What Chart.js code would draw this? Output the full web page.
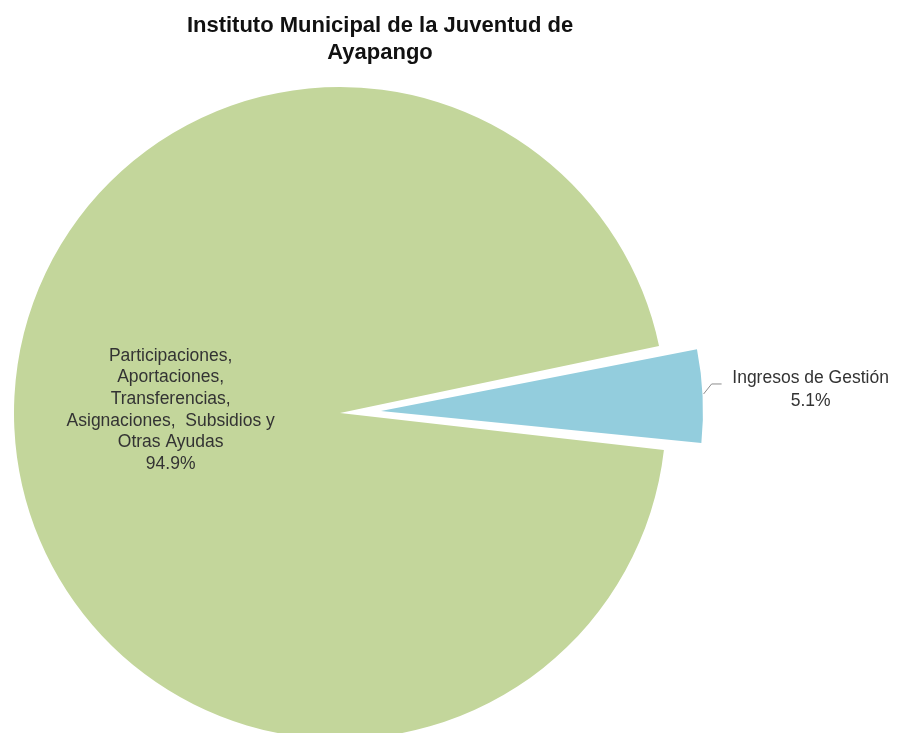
<!DOCTYPE html>
<html>
<head>
<meta charset="utf-8">
<script src="https://cdn.jsdelivr.net/npm/chart.js@4.4.1/dist/chart.umd.min.js"></script>
<style>
  html, body { margin: 0; padding: 0; background: #fff; overflow: hidden; }
  #wrap { width: 897px; height: 733px; }
</style>
</head>
<body>
<div id="wrap"><canvas id="pie" width="897" height="733"></canvas></div>
<script>
const titleLines = ['Instituto Municipal de la Juventud de', 'Ayapango'];
const categories = [
  ['Participaciones,', 'Aportaciones,', 'Transferencias,', 'Asignaciones,  Subsidios y', 'Otras Ayudas'],
  ['Ingresos de Gestión']
];
const values = [94.9, 5.1];
const colors = ['#c3d69b', '#93cddd'];
const explode = [0, 41];        // pixels the slice is pulled out
const explodedRadius = 322;     // exploded slice looks a bit smaller in the original

// chart.js moves an arc by offset/4 and also grows its radius, so undo the growth
function arcFix(arc) {
  return 1 - Math.sin(Math.min(Math.PI, arc.circumference));
}

const explodeFix = {
  id: 'explodeFix',
  beforeDatasetsDraw(chart) {
    chart.getDatasetMeta(0).data.forEach((arc, i) => {
      if (!explode[i]) return;
      arc.outerRadius = explodedRadius - explode[i] * arcFix(arc);
    });
  }
};

const sliceLabels = {
  id: 'sliceLabels',
  afterDatasetsDraw(chart) {
    const ctx = chart.ctx;
    const meta = chart.getDatasetMeta(0);
    const total = values.reduce((a, b) => a + b, 0);
    ctx.save();

    // title
    ctx.fillStyle = '#111';
    ctx.font = 'bold 22px "Liberation Sans", Arial, sans-serif';
    ctx.textAlign = 'center';
    ctx.textBaseline = 'middle';
    titleLines.forEach((t, k) => ctx.fillText(t, 380, 26 + k * 27));

    ctx.font = '17.5px "Liberation Sans", Arial, sans-serif';
    ctx.fillStyle = '#333';
    meta.data.forEach((arc, i) => {
      const p = arc.getProps(['x', 'y', 'startAngle', 'endAngle', 'outerRadius'], true);
      const mid = (p.startAngle + p.endAngle) / 2;
      const cx = p.x + Math.cos(mid) * explode[i];
      const cy = p.y + Math.sin(mid) * explode[i];
      const r = p.outerRadius + explode[i] * arcFix(arc);
      const lines = categories[i].concat([(values[i] / total * 100).toFixed(1) + '%']);
      const lh = 21.6;

      if (i === 0) {
        const lx = cx + Math.cos(mid) * r * 0.52;
        const ly = cy + Math.sin(mid) * r * 0.52 - 11;
        lines.forEach((t, k) => ctx.fillText(t, lx, ly + (k - (lines.length - 1) / 2) * lh));
      } else {
        const sx = cx + Math.cos(mid) * (r + 1);
        const sy = cy + Math.sin(mid) * (r + 1) - 2;
        const ex = sx + 18, ey = sy - 10;
        ctx.strokeStyle = '#8c8c8c';
        ctx.lineWidth = 1;
        ctx.beginPath();
        ctx.moveTo(sx, sy);
        ctx.lineTo(sx + 8, ey);
        ctx.lineTo(ex, ey);
        ctx.stroke();
        lines.forEach((t, k) => ctx.fillText(t, ex + 89, ey - 6 + k * 23));
      }
    });
    ctx.restore();
  }
};

new Chart(document.getElementById('pie'), {
  type: 'pie',
  data: {
    labels: categories,
    datasets: [{
      data: values,
      backgroundColor: colors,
      borderWidth: 0,
      offset: explode.map(v => v * 4),
      hoverOffset: 0
    }]
  },
  options: {
    responsive: false,
    animation: false,
    events: [],
    rotation: 96.5,
    radius: 326,
    layout: { padding: { left: 0, right: 217, top: 93, bottom: 0 } },
    plugins: {
      legend: { display: false },
      tooltip: { enabled: false },
      title: { display: false }
    }
  },
  plugins: [explodeFix, sliceLabels]
});
</script>
</body>
</html>
